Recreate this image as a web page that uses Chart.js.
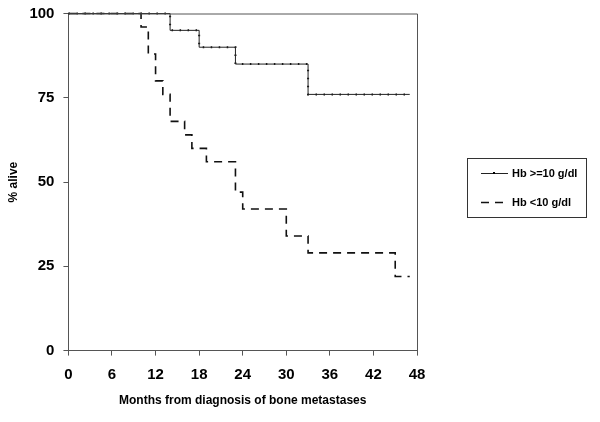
<!DOCTYPE html>
<html>
<head>
<meta charset="utf-8">
<script src="https://cdn.jsdelivr.net/npm/chart.js@4"></script>
<style>
  html, body { margin: 0; padding: 0; background: #fff; }
  #wrap { width: 600px; height: 422px; }
</style>
</head>
<body>
<div id="wrap"><canvas id="kmChart" width="600" height="422"></canvas></div>
<script>
// Data
const seriesLabels = ['Hb >=10 g/dl', 'Hb <10 g/dl'];

const highMonths = [0, 14, 18, 23, 33, 47];
const highAlive = [100, 95, 90, 85, 76, 76];

const lowMonths = [0, 10, 11, 12, 13, 14, 16, 17, 19, 23, 24, 30, 33, 45, 47];
const lowAlive = [100, 96, 88, 80, 76, 68, 64, 60, 56, 47, 42, 34, 29, 22, 22];

const toPoints = (xs, ys) => xs.map((x, i) => ({ x: x, y: ys[i] }));

const FONT = '"Liberation Sans", Arial, sans-serif';

// frame round the plot + legend box on the right
const framePlugin = {
  id: 'frame',
  afterDraw(chart) {
    const { ctx, chartArea: a } = chart;
    ctx.save();
    ctx.strokeStyle = '#555';
    ctx.lineWidth = 1;
    ctx.beginPath();
    ctx.moveTo(a.left, a.top + 0.5);
    ctx.lineTo(a.right + 0.5, a.top + 0.5);
    ctx.lineTo(a.right + 0.5, a.bottom);
    ctx.stroke();

    // legend
    ctx.strokeStyle = '#333';
    ctx.strokeRect(467.5, 158.5, 119, 59);
    ctx.font = 'bold 11px ' + FONT;
    ctx.fillStyle = '#000';
    ctx.textBaseline = 'middle';

    const ds = chart.data.datasets;
    // solid
    ctx.strokeStyle = ds[0].borderColor;
    ctx.lineWidth = 1;
    ctx.setLineDash([]);
    ctx.beginPath();
    ctx.moveTo(481, 173.5);
    ctx.lineTo(508, 173.5);
    ctx.stroke();
    ctx.fillRect(493, 172, 2, 2);
    ctx.fillText(ds[0].label, 512, 174);
    // dashed
    ctx.strokeStyle = ds[1].borderColor;
    ctx.lineWidth = ds[1].borderWidth;
    ctx.setLineDash(ds[1].borderDash);
    ctx.beginPath();
    ctx.moveTo(481, 202.5);
    ctx.lineTo(503, 202.5);
    ctx.stroke();
    ctx.setLineDash([]);
    ctx.fillText(ds[1].label, 512, 203);
    ctx.restore();
  }
};

new Chart(document.getElementById('kmChart'), {
  type: 'line',
  data: {
    datasets: [
      {
        label: seriesLabels[0],
        data: toPoints(highMonths, highAlive),
        stepped: true,
        borderColor: '#222',
        borderWidth: 1,
        pointRadius: 0,
        clip: false
      },
      {
        label: seriesLabels[1],
        data: toPoints(lowMonths, lowAlive),
        stepped: true,
        borderColor: '#111',
        borderWidth: 1.6,
        borderDash: [8, 6],
        pointRadius: 0,
        clip: false
      },
      {
        // censor ticks drawn as a dotted overlay on the solid curve
        label: '',
        data: toPoints(highMonths, highAlive),
        stepped: true,
        borderColor: '#111',
        borderWidth: 2,
        borderDash: [1.5, 6.5],
        pointRadius: 0,
        clip: false
      }
    ]
  },
  options: {
    responsive: false,
    animation: false,
    layout: { padding: { top: 13, right: 183, bottom: 10, left: 2 } },
    plugins: {
      legend: { display: false },
      tooltip: { enabled: false }
    },
    scales: {
      x: {
        type: 'linear',
        min: 0,
        max: 48,
        ticks: {
          stepSize: 6,
          color: '#000',
          padding: 10,
          font: { family: FONT, size: 15, weight: 'bold' }
        },
        grid: { drawOnChartArea: false, drawTicks: true, tickLength: 5, color: '#555' },
        border: { display: true, color: '#555' },
        title: {
          display: true,
          text: 'Months from diagnosis of bone metastases',
          color: '#000',
          padding: { top: 0 },
          font: { family: FONT, size: 12, weight: 'bold' }
        }
      },
      y: {
        min: 0,
        max: 100,
        ticks: {
          stepSize: 25,
          color: '#000',
          padding: 9,
          font: { family: FONT, size: 15, weight: 'bold', lineHeight: 0.6 }
        },
        grid: { drawOnChartArea: false, drawTicks: true, tickLength: 5, color: '#555' },
        border: { display: true, color: '#555' },
        title: {
          display: true,
          text: '% alive',
          color: '#000',
          padding: { bottom: 0 },
          font: { family: FONT, size: 12, weight: 'bold' }
        }
      }
    }
  },
  plugins: [framePlugin]
});
</script>
</body>
</html>
